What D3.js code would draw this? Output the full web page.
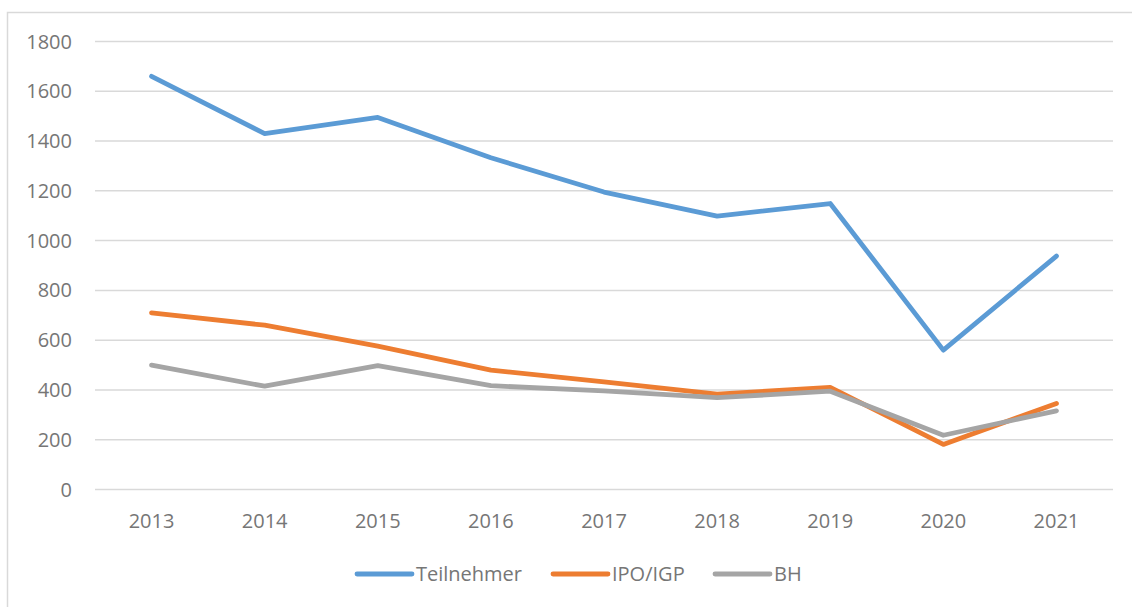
<!DOCTYPE html>
<html>
<head>
<meta charset="utf-8">
<script src="https://cdn.jsdelivr.net/npm/d3@7"></script>
<style>
  body { margin: 0; background: #fff; }
  text { font-family: "Open Sans", sans-serif; fill: #767676; }
</style>
</head>
<body>
<script>
var width = 1132,
    height = 607;

// data
var years = ["2013", "2014", "2015", "2016", "2017", "2018", "2019", "2020", "2021"];
var teilnehmer = [1660, 1430, 1495, 1333, 1195, 1098, 1149, 560, 938];
var ipo = [710, 660, 576, 480, 432, 383, 410, 181, 346];
var bh = [500, 415, 498, 417, 396, 369, 395, 218, 316];
var yTicks = [0, 200, 400, 600, 800, 1000, 1200, 1400, 1600, 1800];

var series = [
  { name: "Teilnehmer", values: teilnehmer, color: "#5B9BD5" },
  { name: "IPO/IGP", values: ipo, color: "#ED7D31" },
  { name: "BH", values: bh, color: "#A5A5A5" }
];

var svg = d3.select("body").append("svg")
    .attr("width", width)
    .attr("height", height);

// chart border (only left and top visible)
svg.append("rect")
    .attr("x", 7.5)
    .attr("y", 12.5)
    .attr("width", width + 20)
    .attr("height", height + 20)
    .attr("fill", "none")
    .attr("stroke", "#d9d9d9")
    .attr("stroke-width", 1.5);

var x = d3.scalePoint()
    .domain(years)
    .range([95, 1113])
    .padding(0.5);

var y = d3.scaleLinear()
    .domain([0, 1800])
    .range([489.5, 41.5]);

// gridlines
svg.append("g")
  .selectAll("line")
  .data(yTicks)
  .join("line")
    .attr("x1", 95)
    .attr("x2", 1113)
    .attr("y1", function(d) { return y(d); })
    .attr("y2", function(d) { return y(d); })
    .attr("stroke", "#d9d9d9")
    .attr("stroke-width", 1.5);

// y labels
svg.append("g")
  .selectAll("text")
  .data(yTicks)
  .join("text")
    .attr("x", 72)
    .attr("y", function(d) { return y(d); })
    .attr("dy", "0.35em")
    .attr("text-anchor", "end")
    .style("font-size", "20px")
    .text(function(d) { return d; });

// x labels
svg.append("g")
  .selectAll("text")
  .data(years)
  .join("text")
    .attr("x", function(d) { return x(d); })
    .attr("y", 521)
    .attr("dy", "0.35em")
    .attr("text-anchor", "middle")
    .style("font-size", "20px")
    .text(function(d) { return d; });

var line = d3.line()
    .x(function(d, i) { return x(years[i]); })
    .y(function(d) { return y(d); });

svg.append("g")
  .selectAll("path")
  .data(series)
  .join("path")
    .attr("d", function(d) { return line(d.values); })
    .attr("fill", "none")
    .attr("stroke", function(d) { return d.color; })
    .attr("stroke-width", 4.8)
    .attr("stroke-linecap", "round")
    .attr("stroke-linejoin", "round");

// legend
var legendX = [357, 553, 715];
var legend = svg.append("g")
  .selectAll("g")
  .data(series)
  .join("g")
    .attr("transform", function(d, i) { return "translate(" + legendX[i] + ",574)"; });

legend.append("line")
    .attr("x1", 0)
    .attr("x2", 55)
    .attr("stroke", function(d) { return d.color; })
    .attr("stroke-width", 4.8)
    .attr("stroke-linecap", "round");

legend.append("text")
    .attr("x", 59)
    .attr("dy", "0.35em")
    .style("font-size", "20px")
    .text(function(d) { return d.name; });
</script>
</body>
</html>
